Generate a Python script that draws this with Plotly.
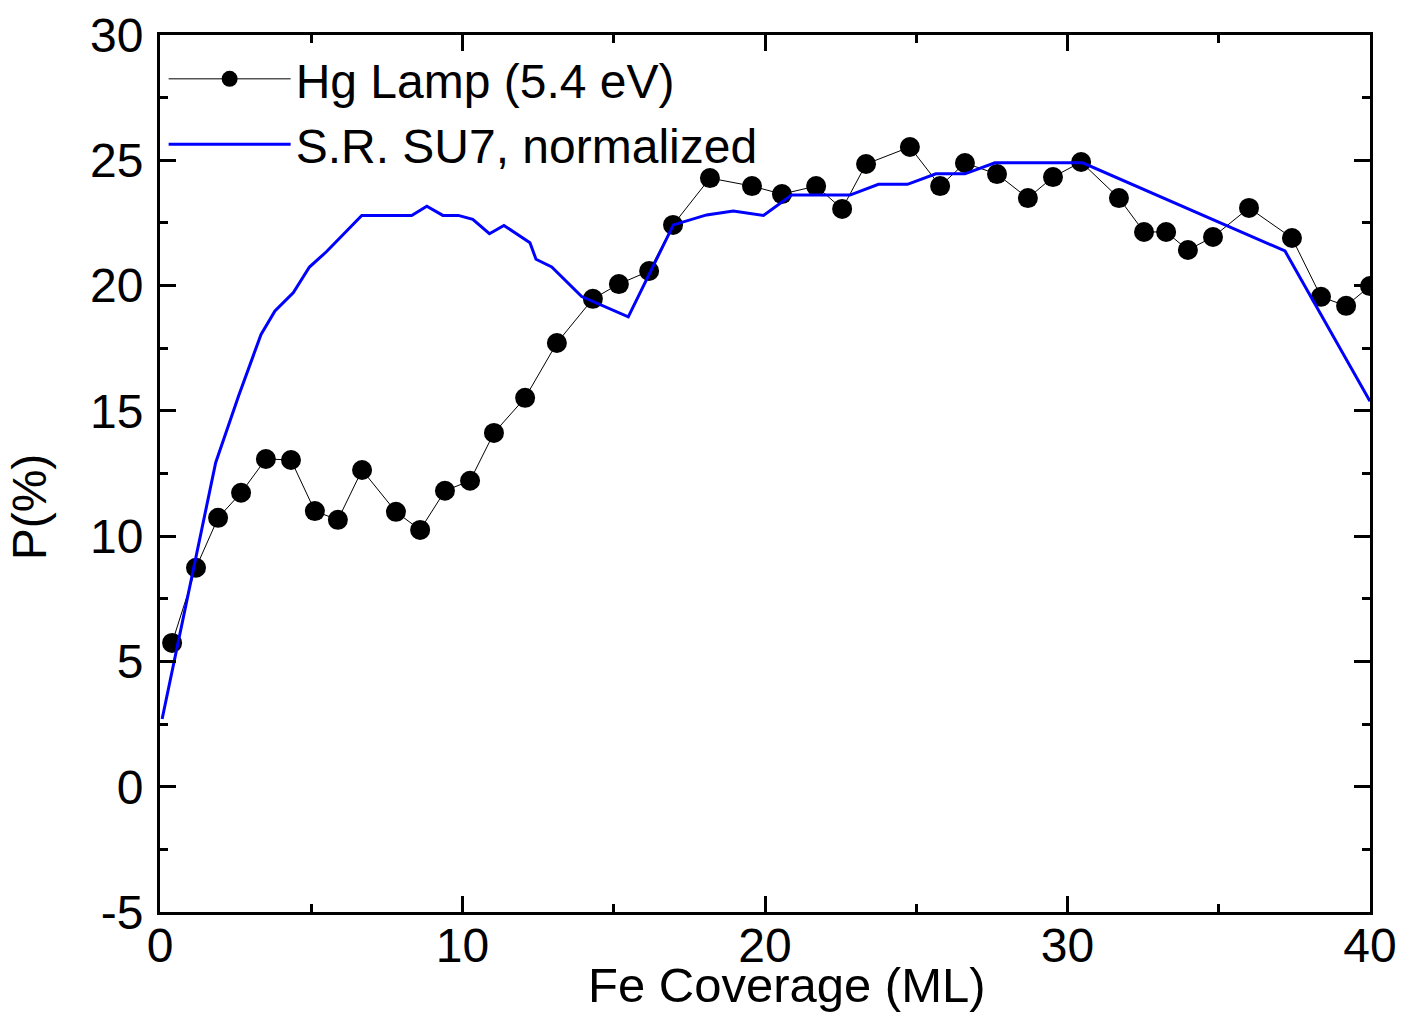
import plotly.graph_objects as go

# Hg lamp (5.4 eV) data
hg_x = [0.4, 1.19, 1.92, 2.68, 3.5, 4.33, 5.12, 5.88, 6.68, 7.8, 8.6, 9.42, 10.25,
        11.04, 12.07, 13.12, 14.31, 15.17, 16.17, 16.96, 18.18, 19.57, 20.56, 21.69,
        22.55, 23.34, 24.79, 25.79, 26.61, 27.67, 28.69, 29.52, 30.45, 31.7, 32.53,
        33.26, 33.98, 34.81, 36.0, 37.42, 38.38, 39.21, 40.0]
hg_y = [5.74, 8.74, 10.73, 11.73, 13.08, 13.04, 11.0, 10.65, 12.64, 10.97, 10.25, 11.81, 12.21,
        14.12, 15.52, 17.71, 19.47, 20.06, 20.58, 22.42, 24.29, 23.97, 23.65, 23.97,
        23.06, 24.85, 25.53, 23.97, 24.89, 24.45, 23.49, 24.33, 24.93, 23.49, 22.14,
        22.14, 21.42, 21.94, 23.1, 21.9, 19.55, 19.19, 19.98]

# S.R. SU7, normalized
sr_x = [0.07, 1.84, 2.6, 3.34, 3.8, 4.41, 4.94, 5.5, 6.67, 8.32, 8.82, 9.35, 9.86, 10.34,
        10.89, 11.37, 12.23, 12.43, 12.95, 13.94, 15.48, 16.97, 18.07, 18.95, 19.95,
        20.88, 22.81, 23.75, 24.71, 25.65, 26.61, 27.6, 30.5, 37.19, 40.0]
sr_y = [2.7, 12.93, 15.6, 18.05, 18.99, 19.72, 20.74, 21.35, 22.8, 22.8, 23.17, 22.8, 22.8, 22.64,
        22.07, 22.4, 21.71, 21.05, 20.74, 19.56, 18.75, 22.42, 22.82, 22.98, 22.8,
        23.61, 23.61, 24.04, 24.04, 24.46, 24.46, 24.9, 24.9, 21.38, 15.38]

# Tick labels
x_tickvals = [0, 10, 20, 30, 40]
x_ticktext = ["0", "10", "20", "30", "40"]
y_tickvals = [-5, 0, 5, 10, 15, 20, 25, 30]
y_ticktext = ["-5", "0", "5", "10", "15", "20", "25", "30"]

FONT = "Liberation Sans, Arial, sans-serif"

fig = go.Figure()
fig.add_trace(go.Scatter(
    x=hg_x, y=hg_y, mode="lines+markers", name="Hg Lamp (5.4 eV)",
    line=dict(color="black", width=1),
    marker=dict(color="black", size=20, symbol="circle"),
))
fig.add_trace(go.Scatter(
    x=sr_x, y=sr_y, mode="lines", name="S.R. SU7, normalized",
    line=dict(color="#0000FF", width=3),
))

axis_common = dict(
    showgrid=False, zeroline=False, showline=True, linecolor="black", linewidth=3,
    mirror="allticks", ticks="inside", ticklen=16, tickwidth=2.5, tickcolor="black",
    tickfont=dict(family=FONT, size=48, color="black"), automargin=False,
)

fig.update_xaxes(range=[0, 40], tickmode="array", tickvals=x_tickvals, ticktext=x_ticktext,
                 minor=dict(ticks="inside", ticklen=8, tickwidth=2.5, tickcolor="black",
                            tickmode="linear", tick0=0, dtick=5),
                 ticklabelstandoff=-11, **axis_common)
fig.update_yaxes(range=[-5, 30], tickmode="array", tickvals=y_tickvals, ticktext=y_ticktext,
                 minor=dict(ticks="inside", ticklen=8, tickwidth=2.5, tickcolor="black",
                            tickmode="linear", tick0=0, dtick=2.5),
                 ticklabelstandoff=4, **axis_common)

fig.update_layout(
    width=1401, height=1014,
    margin=dict(l=160, r=31, t=35, b=102),
    paper_bgcolor="white", plot_bgcolor="white",
    font=dict(family=FONT, color="black"),
    legend=dict(
        x=0.003, y=0.993, xanchor="left", yanchor="top",
        bgcolor="rgba(0,0,0,0)", borderwidth=0,
        font=dict(family=FONT, size=48, color="black"),
        itemwidth=122, tracegroupgap=0,
    ),
    annotations=[
        dict(text="Fe Coverage (ML)", xref="paper", yref="paper", x=0.518, y=-0.0835,
             xanchor="center", yanchor="middle", showarrow=False,
             font=dict(family=FONT, size=49, color="black")),
        dict(text="P(%)", xref="paper", yref="paper", x=-0.108, y=0.4618,
             xanchor="center", yanchor="middle", showarrow=False, textangle=-90,
             font=dict(family=FONT, size=48, color="black")),
    ],
)

fig.write_html("out.html")
